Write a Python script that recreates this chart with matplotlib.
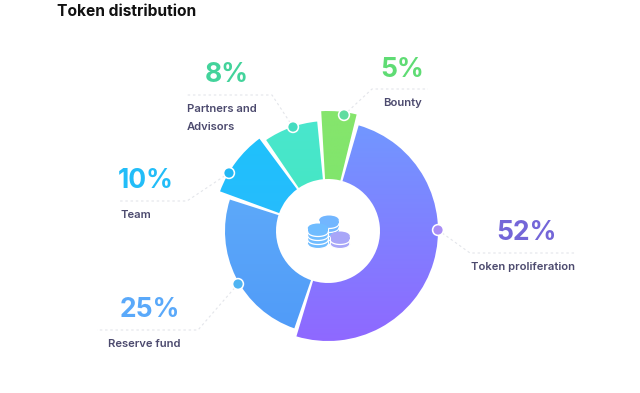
#!/usr/bin/env python

import numpy as np
from matplotlib import pyplot as plt
from matplotlib.colors import LinearSegmentedColormap
from matplotlib.patches import Wedge, Ellipse, Rectangle, Circle

title = "Token distribution"
categories = ["Token proliferation", "Reserve fund", "Team", "Partners and\nAdvisors", "Bounty"]
percent_labels = ["52%", "25%", "10%", "8%", "5%"]
# share of the ring each slice takes up in the picture, measured off the arcs
arc_shares = [50.8, 25.3, 9.9, 8.6, 5.4]
radii = [110, 103, 115, 110, 120]

top_colors = ["#6f9bff", "#66b2fb", "#1dc3fb", "#4ae6cf", "#86e56c"]
bottom_colors = ["#8f68ff", "#4f9af8", "#30b4ff", "#3fe8b4", "#76e56c"]
text_colors = ["#7466d8", "#5aa9fa", "#22bdf8", "#43d39b", "#5fdc74"]
dot_colors = ["#a98df5", "#4fb4f2", "#22b8f5", "#45dcc0", "#5fdca0"]

# start of the first slice, clockwise from 12 o'clock
start_angle = 15.0
gap = 1.2

cx, cy = 328, 231
hole_radius = 52

# label layout in pixels: dot, leader polyline, percent position, name position
dots = [(438, 230), (238, 284), (229, 173), (293, 127), (344, 115)]
leaders = [[(470, 253), (576, 253)],
           [(198, 330), (97, 330)],
           [(187, 201), (120, 201)],
           [(272, 95), (187, 95)],
           [(372, 89), (428, 89)]]
percent_xy = [(526, 233), (150, 310), (146, 181), (227, 75), (402, 70)]
name_xy = [(523, 267), (144, 344), (136, 215), (187, 118.5), (402, 103)]
name_ha = ["center", "center", "center", "left", "center"]

plt.rcParams["font.family"] = ["Inter", "DejaVu Sans"]

fig = plt.figure(figsize=(6.4, 3.93), dpi=100)
ax = fig.add_axes([0, 0, 1, 1])
ax.set_xlim(0, 640)
ax.set_ylim(393, 0)
ax.axis("off")

ax.text(57, 11, title, fontsize=11.2, fontweight="bold", color="#111111",
        ha="left", va="center")

angle = start_angle
for i, share in enumerate(arc_shares):
    sweep = share / sum(arc_shares) * 360
    # y axis points down here, so patch angles run clockwise from +x
    theta1 = angle - 90 + gap
    theta2 = angle + sweep - 90 - gap
    wedge = Wedge((cx, cy), radii[i], theta1, theta2, width=radii[i] - hole_radius,
                  facecolor="none", edgecolor="none")
    ax.add_patch(wedge)
    cmap = LinearSegmentedColormap.from_list(f"grad{i}", [top_colors[i], bottom_colors[i]])
    im = ax.imshow(np.linspace(0, 1, 256).reshape(-1, 1), cmap=cmap, aspect="auto",
                   extent=(cx - 125, cx + 125, cy + 112, cy - 125), zorder=1)
    im.set_clip_path(wedge)
    angle += sweep

    xs = [dots[i][0]] + [p[0] for p in leaders[i]]
    ys = [dots[i][1]] + [p[1] for p in leaders[i]]
    ax.plot(xs, ys, color="#e3e5ea", lw=0.8, ls=(0, (2.2, 2.5)), zorder=0.5)
    ax.add_patch(Circle(dots[i], 6.2, facecolor="white", edgecolor="none", zorder=3))
    ax.add_patch(Circle(dots[i], 4.6, facecolor=dot_colors[i], edgecolor="none", zorder=4))

    ax.text(percent_xy[i][0], percent_xy[i][1], percent_labels[i], fontsize=19,
            fontweight="bold", color=text_colors[i], ha="center", va="center")
    ax.text(name_xy[i][0], name_xy[i][1], categories[i], fontsize=8.1, fontweight="semibold",
            color="#4c4a6e", ha=name_ha[i], va="center", linespacing=2.0)


def coin_stack(x, top, bottom, half_w, color, rows, z):
    ry = 4.5
    ax.add_patch(Rectangle((x - half_w, top), 2 * half_w, bottom - top, facecolor=color,
                           edgecolor="white", lw=0.8, zorder=z))
    ax.add_patch(Ellipse((x, bottom), 2 * half_w, 2 * ry, facecolor=color, edgecolor="white",
                         lw=0.8, zorder=z))
    ax.add_patch(Rectangle((x - half_w + 0.4, top), 2 * half_w - 0.8, bottom - top, facecolor=color,
                           edgecolor="none", zorder=z))
    ax.add_patch(Ellipse((x, top), 2 * half_w, 2 * ry, facecolor=color, edgecolor="none", zorder=z))
    t = np.linspace(np.pi, 0, 30)
    for y in rows:
        ax.plot(x + half_w * np.cos(t), y + ry * np.sin(t), color="white", lw=0.9, zorder=z + 0.1)


coin_stack(329, 220, 240, 9.8, "#72b6ff", [224, 228, 232, 236], 6)
coin_stack(318, 228, 244, 10.2, "#6fbcff", [232, 236, 240], 7)
coin_stack(340, 236, 244, 9.8, "#a8a6f8", [240], 8)

fig.savefig("out.png", dpi=100)
